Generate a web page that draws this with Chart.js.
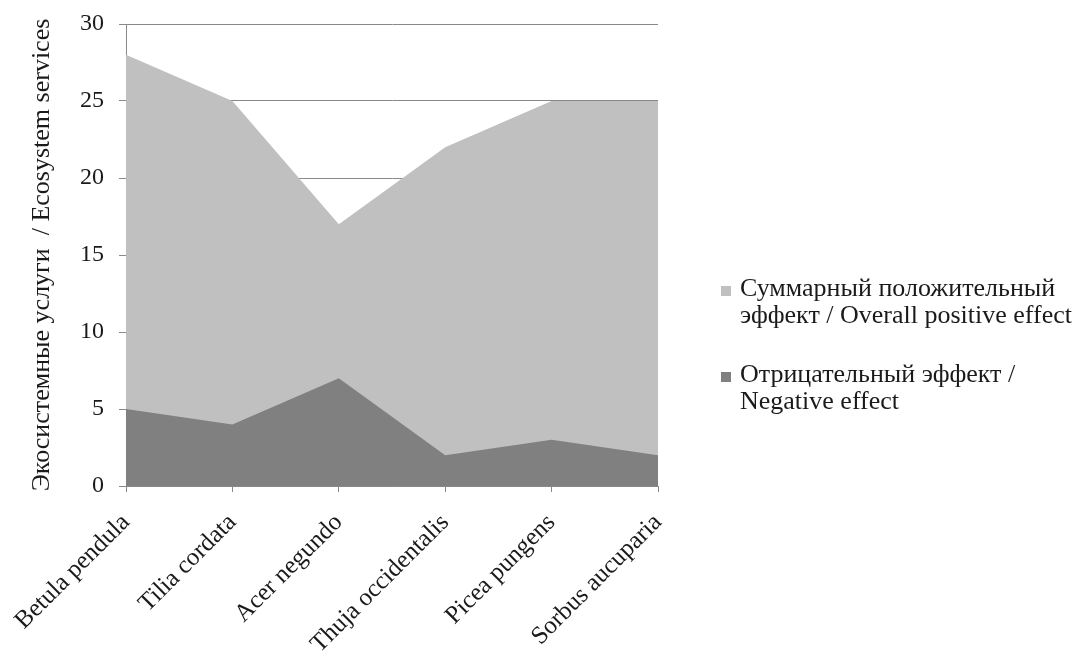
<!DOCTYPE html>
<html>
<head>
<meta charset="utf-8">
<script src="https://cdn.jsdelivr.net/npm/chart.js@4/dist/chart.umd.min.js"></script>
<style>
  html, body { margin: 0; padding: 0; background: #fff; }
  #wrap { width: 1073px; height: 657px; position: relative; }
</style>
</head>
<body>
<div id="wrap"><canvas id="c" width="1073" height="657"></canvas></div>
<script>
// Tree species along the x axis
const species = ['Betula pendula', 'Tilia cordata', 'Acer negundo', 'Thuja occidentalis', 'Picea pungens', 'Sorbus aucuparia'];
// Overall positive effect per species
const positiveEffect = [28, 25, 17, 22, 25, 25];
// Negative effect per species
const negativeEffect = [5, 4, 7, 2, 3, 2];
// Y axis ticks
const yTicks = [0, 5, 10, 15, 20, 25, 30];

const legendItems = [
  { lines: ['Суммарный положительный', 'эффект / Overall positive effect'], color: '#c0c0c0' },
  { lines: ['Отрицательный эффект /', 'Negative effect'], color: '#808080' }
];

const FONT = '"Liberation Serif", "Times New Roman", serif';
const AXIS = '#898989';

// Two-line legend on the right of the plot
const sideLegend = {
  id: 'sideLegend',
  afterDraw(chart) {
    const ctx = chart.ctx;
    ctx.save();
    ctx.font = '26px ' + FONT;
    ctx.textBaseline = 'alphabetic';
    ctx.textAlign = 'left';
    const baselines = [296, 382];
    legendItems.forEach((item, i) => {
      const b = baselines[i];
      ctx.fillStyle = item.color;
      ctx.fillRect(721, b - 10, 10, 10);
      ctx.fillStyle = '#1a1a1a';
      item.lines.forEach((t, j) => ctx.fillText(t, 740, b + j * 27));
    });
    ctx.restore();
  }
};

new Chart(document.getElementById('c'), {
  type: 'line',
  data: {
    labels: species,
    datasets: [
      {
        label: 'Суммарный положительный эффект / Overall positive effect',
        data: positiveEffect,
        backgroundColor: '#c0c0c0',
        borderWidth: 0,
        pointRadius: 0,
        fill: 'origin',
        tension: 0,
        order: 2
      },
      {
        label: 'Отрицательный эффект / Negative effect',
        data: negativeEffect,
        backgroundColor: '#808080',
        borderWidth: 0,
        pointRadius: 0,
        fill: 'origin',
        tension: 0,
        order: 1
      }
    ]
  },
  options: {
    responsive: false,
    animation: false,
    layout: { padding: { left: 0, right: 415, top: 24, bottom: 0 } },
    plugins: {
      legend: { display: false },
      tooltip: { enabled: false }
    },
    scales: {
      x: {
        offset: false,
        grid: { drawOnChartArea: false, drawTicks: true, tickLength: 6, color: AXIS },
        border: { display: true, color: AXIS, width: 1 },
        ticks: {
          font: { family: FONT, size: 25 },
          color: '#1a1a1a',
          maxRotation: 45,
          minRotation: 45,
          padding: 16,
          autoSkip: false
        },
        afterFit(scale) { scale.height = 171; scale.paddingLeft = 0; scale.paddingRight = 0; }
      },
      y: {
        min: 0,
        max: 30,
        afterBuildTicks(scale) { scale.ticks = yTicks.map(v => ({ value: v })); },
        grid: { color: AXIS, tickLength: 7, drawTicks: true },
        border: { display: true, color: AXIS, width: 1 },
        ticks: {
          font: { family: FONT, size: 24 },
          color: '#1a1a1a',
          padding: 15
        },
        title: {
          display: true,
          text: 'Экосистемные услуги  / Ecosystem services',
          font: { family: FONT, size: 26 },
          color: '#1a1a1a',
          padding: { top: 27, bottom: 0 }
        },
        afterFit(scale) { scale.width = 126; scale.paddingTop = 0; scale.paddingBottom = 0; }
      }
    }
  },
  plugins: [sideLegend]
});
</script>
</body>
</html>
